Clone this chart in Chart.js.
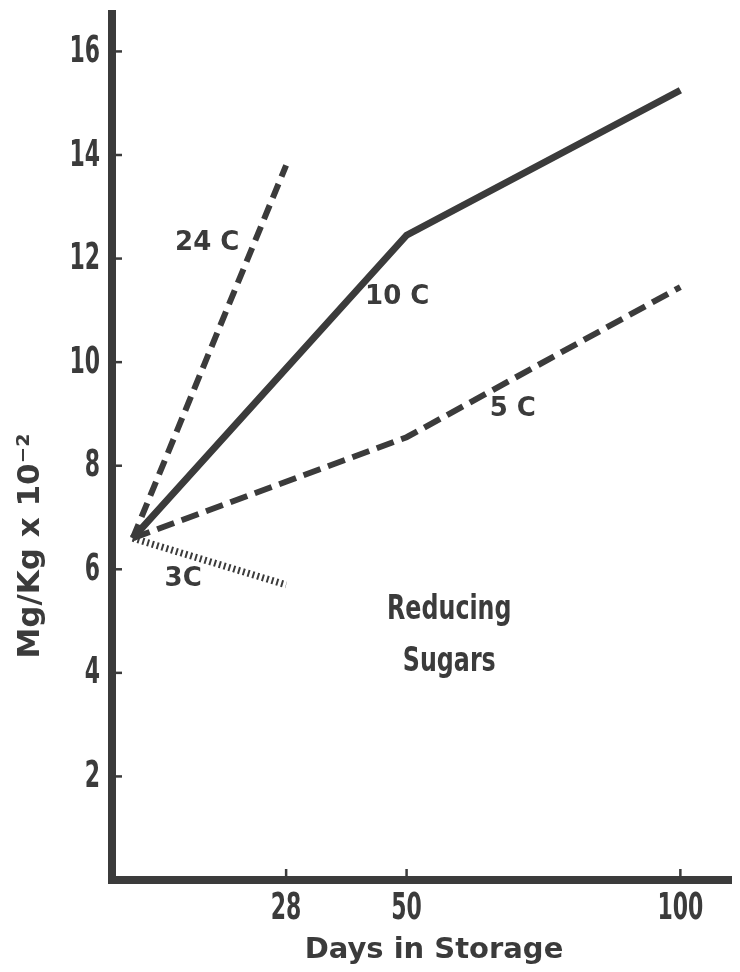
<!DOCTYPE html>
<html>
<head>
<meta charset="utf-8">
<script src="https://cdn.jsdelivr.net/npm/chart.js@4.4.1/dist/chart.umd.min.js"></script>
<style>
  html, body { margin: 0; padding: 0; background: #fff; }
  canvas { display: block; }
</style>
</head>
<body>
<canvas id="myChart" width="740" height="972"></canvas>
<script>
// days in storage and reducing sugars (Mg/Kg x 10^-2)
const days24 = [0, 28];
const sugar24 = [6.6, 13.8];
const days10 = [0, 50, 100];
const sugar10 = [6.6, 12.45, 15.25];
const days5 = [0, 50, 100];
const sugar5 = [6.6, 8.55, 11.45];
const days3 = [0, 28];
const sugar3 = [6.6, 5.7];

const xTicks = [28, 50, 100];
const yTicks = [2, 4, 6, 8, 10, 12, 14, 16];

const ink = '#3b3b3b';
const wideFont = '"DejaVu Sans", Verdana, sans-serif';
const narrowFont = '"DejaVu Sans Condensed", "DejaVu Sans", sans-serif';

function toPoints(xs, ys) {
    return xs.map((x, i) => ({ x: x, y: ys[i] }));
}

// text squeezed sideways, the figure uses a tall condensed face
function squeezedText(ctx, text, px, py, sx, align) {
    ctx.save();
    ctx.translate(px, py);
    ctx.scale(sx, 1);
    ctx.textAlign = align;
    ctx.fillText(text, 0, 0);
    ctx.restore();
}

// labels written next to the curves (in data units)
const notes = [
    { text: '24 C', day: 13.6, val: 12.3 },
    { text: '10 C', day: 48.3, val: 11.25 },
    { text: '5 C', day: 69.4, val: 9.1 },
    { text: '3C', day: 9.2, val: 5.8 }
];

const decorations = {
    id: 'decorations',
    afterDraw(chart) {
        const ctx = chart.ctx;
        const area = chart.chartArea;
        const x = chart.scales.x;
        const y = chart.scales.y;
        ctx.save();
        ctx.strokeStyle = ink;
        ctx.fillStyle = ink;

        // heavy axis lines
        ctx.lineWidth = 8;
        ctx.lineCap = 'square';
        ctx.beginPath();
        ctx.moveTo(area.left, area.top + 4);
        ctx.lineTo(area.left, area.bottom);
        ctx.lineTo(area.right, area.bottom);
        ctx.stroke();

        // small inner tick marks
        ctx.lineWidth = 2.5;
        ctx.lineCap = 'butt';
        yTicks.forEach(v => {
            const py = y.getPixelForValue(v);
            ctx.beginPath();
            ctx.moveTo(area.left + 3, py);
            ctx.lineTo(area.left + 10, py);
            ctx.stroke();
        });
        xTicks.forEach(v => {
            const px = x.getPixelForValue(v);
            ctx.beginPath();
            ctx.moveTo(px, area.bottom - 3);
            ctx.lineTo(px, area.bottom - 11);
            ctx.stroke();
        });

        // tick labels
        ctx.textBaseline = 'middle';
        ctx.font = 'bold 37px ' + narrowFont;
        yTicks.forEach(v => {
            squeezedText(ctx, String(v), area.left - 12, y.getPixelForValue(v) + 1, 0.66, 'right');
        });
        xTicks.forEach(v => {
            squeezedText(ctx, String(v), x.getPixelForValue(v), area.bottom + 29, 0.66, 'center');
        });

        // curve labels
        ctx.textAlign = 'center';
        ctx.font = 'bold 26px ' + wideFont;
        notes.forEach(n => {
            ctx.fillText(n.text, x.getPixelForValue(n.day), y.getPixelForValue(n.val));
        });
        ctx.font = 'bold 33px ' + narrowFont;
        squeezedText(ctx, 'Reducing', x.getPixelForValue(57.8), y.getPixelForValue(5.2), 0.8, 'center');
        squeezedText(ctx, 'Sugars', x.getPixelForValue(57.8), y.getPixelForValue(4.2), 0.8, 'center');

        // axis titles
        ctx.font = 'bold 29px ' + wideFont;
        ctx.fillText('Days in Storage', x.getPixelForValue(55), area.bottom + 70);
        ctx.translate(31, y.getPixelForValue(6.45));
        ctx.rotate(-Math.PI / 2);
        ctx.font = 'bold 31px ' + wideFont;
        ctx.fillText('Mg/Kg x 10\u207B\u00B2', 0, 0);
        ctx.restore();
    }
};

const ctx = document.getElementById('myChart').getContext('2d');
const chart = new Chart(ctx, {
    type: 'line',
    data: {
        datasets: [
            { label: '24 C', data: toPoints(days24, sugar24), borderColor: ink, borderWidth: 6, borderDash: [15, 8], pointRadius: 0 },
            { label: '10 C', data: toPoints(days10, sugar10), borderColor: ink, borderWidth: 7, pointRadius: 0, borderJoinStyle: 'miter' },
            { label: '5 C', data: toPoints(days5, sugar5), borderColor: ink, borderWidth: 6, borderDash: [18, 8], pointRadius: 0 },
            { label: '3 C', data: toPoints(days3, sugar3), borderColor: ink, borderWidth: 7, borderDash: [2, 3], pointRadius: 0 }
        ]
    },
    options: {
        responsive: false,
        animation: false,
        layout: { padding: { top: 10, right: 12, left: 0, bottom: 0 } },
        plugins: {
            legend: { display: false },
            tooltip: { enabled: false }
        },
        scales: {
            x: {
                type: 'linear',
                min: -3.8,
                max: 108.7,
                afterBuildTicks: s => { s.ticks = xTicks.map(v => ({ value: v })); },
                afterFit: s => { s.height = 92; s.paddingLeft = 0; s.paddingRight = 0; },
                grid: { display: false, drawTicks: false },
                border: { display: false },
                ticks: { display: false }
            },
            y: {
                min: 0,
                max: 16.8,
                afterBuildTicks: s => { s.ticks = yTicks.map(v => ({ value: v })); },
                afterFit: s => { s.width = 112; s.paddingTop = 0; s.paddingBottom = 0; },
                grid: { display: false, drawTicks: false },
                border: { display: false },
                ticks: { display: false }
            }
        }
    },
    plugins: [decorations]
});
</script>
</body>
</html>
